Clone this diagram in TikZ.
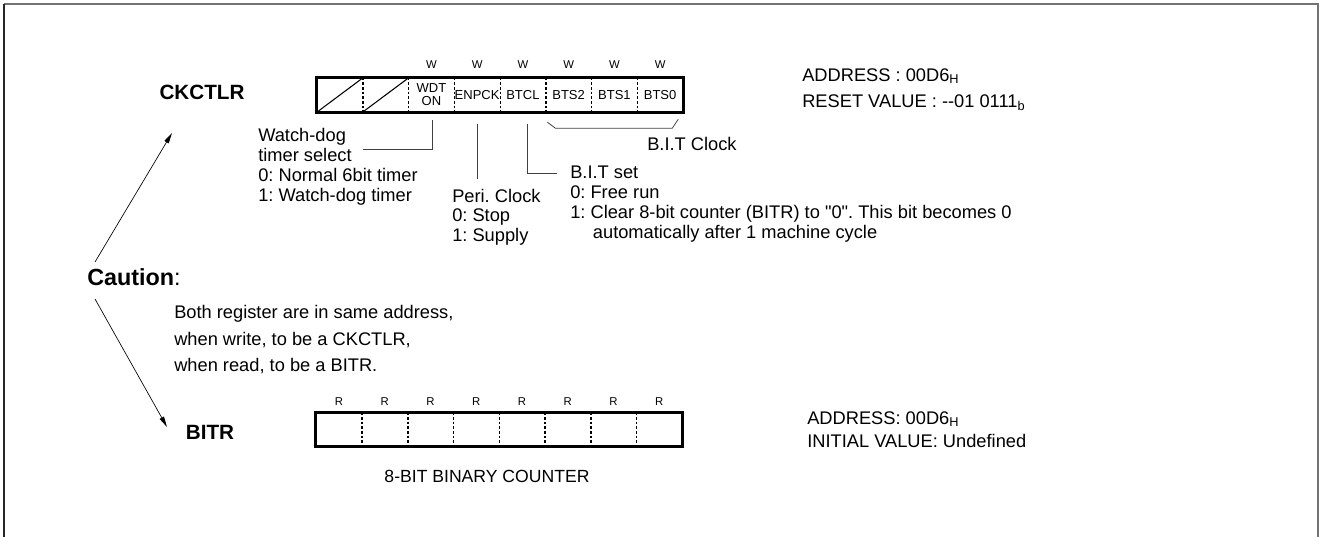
\documentclass[tikz,border=0pt]{standalone}
\usepackage{fontspec}
\setmainfont{Liberation Sans}[Ligatures=TeXOff]
\usetikzlibrary{positioning,arrows.meta}
\frenchspacing

\begin{document}
\begin{tikzpicture}[
    x=0.75pt, y=-0.75pt,
    regname/.style={font=\fontsize{15.5}{18}\selectfont\bfseries, inner sep=0pt},
    cell/.style={rectangle, minimum width=34.31pt, minimum height=25.5pt, inner sep=0pt, align=center, font=\fontsize{9.75}{9.75}\selectfont},
    regframe/.style={draw, line width=2pt},
    divider/.style={line width=1.1pt, dash pattern=on 2pt off 1.5pt},
    acc/.style={font=\fontsize{8.5}{8.5}\selectfont, inner sep=0pt},
    note/.style={anchor=north west, align=left, inner sep=0pt, font=\fontsize{13.7}{15}\selectfont},
    leader/.style={draw=black!75, line width=0.6pt},
    arr/.style={-{Triangle[length=8pt,width=3.6pt]}, line width=0.5pt}
]
    \useasboundingbox (0,0) rectangle (1321,537);
    \draw[black!55, line width=1.3pt] (4,4) -- (1318,4) -- (1318,537);
    \draw[black!85, line width=1.3pt] (4,4) -- (4,537);

    % CKCTLR
    \node[regname] (ckname) at (202,92) {CKCTLR};
    \node[cell] (ck1) at (339.9,95) {};
    \node[cell] (ck2) at (385.6,95) {};
    \node[cell] (ck3) at (431.4,95) {WDT\\ON};
    \node[cell] (ck4) at (477.1,95) {ENPCK};
    \node[cell] (ck5) at (522.9,95) {BTCL};
    \node[cell] (ck6) at (568.6,95) {BTS2};
    \node[cell] (ck7) at (614.4,95) {BTS1};
    \node[cell] (ck8) at (660.1,95) {BTS0};
    \draw[regframe] (ck1.north west) rectangle (ck8.south east);
    \foreach \i in {1,...,7} \draw[divider] (ck\i.north east) -- (ck\i.south east);
    \draw[line width=0.8pt] (ck1.south west) -- (ck1.north east);
    \draw[line width=0.8pt] (ck2.south west) -- (ck2.north east);
    \foreach \i in {3,...,8} \node[acc] (w\i) at ([shift={(0,-13)}]ck\i.north) {W};

    \node[note, font=\fontsize{13.7}{20}\selectfont] (ckaddr) at (802,68) {ADDRESS : 00D6\textsubscript{H}\\RESET VALUE : --01 0111\textsubscript{b}};

    \node[note] (wdtnote) at (258,128) {Watch-dog\\timer select\\0: Normal 6bit timer\\1: Watch-dog timer};
    \node[note, font=\fontsize{13.7}{14.6}\selectfont] (perinote) at (452,189) {Peri. Clock\\0: Stop\\1: Supply};
    \node[note] (bitsetnote) at (570,166) {B.I.T set\\0: Free run\\1: Clear 8-bit counter (BITR) to "0". This bit becomes 0\\\hspace*{17pt}automatically after 1 machine cycle};
    \node[note, anchor=west] (bclknote) at (647,144) {B.I.T Clock};

    \coordinate (wdtend) at (363,149);
    \coordinate (bitsetend) at (557,173);
    \draw[leader] ([shift={(1,8)}]ck3.south) |- (wdtend);
    \draw[leader] ([shift={(0,12)}]ck4.south) -- ([shift={(0,-10)}]ck4.south |- perinote.north);
    \draw[leader] ([shift={(4,12)}]ck5.south) |- (bitsetend);
    \draw[leader] ([shift={(2,10)}]ck6.south west) -- ++(8,6) -- ([shift={(-11,16)}]ck8.south east) -- ([shift={(-5,7)}]ck8.south east);

    % Caution
    \node[font=\fontsize{17.5}{20}\selectfont, anchor=west, inner sep=0pt] (caution) at (87,277) {\textbf{Caution}:};
    \node[note, font=\fontsize{13.7}{19.9}\selectfont] (cautiontext) at (174,305) {Both register are in same address,\\when write, to be a CKCTLR,\\when read, to be a BITR.};
    \coordinate (cktip) at (172,133);
    \coordinate (bttip) at (167,427);
    \draw[arr] ([shift={(8,-15)}]caution.west) -- (cktip);
    \draw[arr] ([shift={(8,22)}]caution.west) -- (bttip);

    % BITR
    \node[regname] (bitrname) at (210,432) {BITR};
    \foreach \i in {1,...,8} \node[cell] (bt\i) at ({316+45.75*(\i-0.5)},429.5) {};
    \draw[regframe] (bt1.north west) rectangle (bt8.south east);
    \foreach \i in {1,...,7} \draw[divider] (bt\i.north east) -- (bt\i.south east);
    \foreach \i in {1,...,8} \node[acc] (r\i) at ([shift={(0,-11)}]bt\i.north) {R};
    \node[font=\fontsize{13.2}{15}\selectfont, inner sep=0pt] (cntlabel) at (487,476) {8-BIT BINARY COUNTER};

    \node[note, font=\fontsize{13.7}{17.25}\selectfont] (btaddr) at (807,411) {ADDRESS: 00D6\textsubscript{H}\\INITIAL VALUE: Undefined};
\end{tikzpicture}
\end{document}
